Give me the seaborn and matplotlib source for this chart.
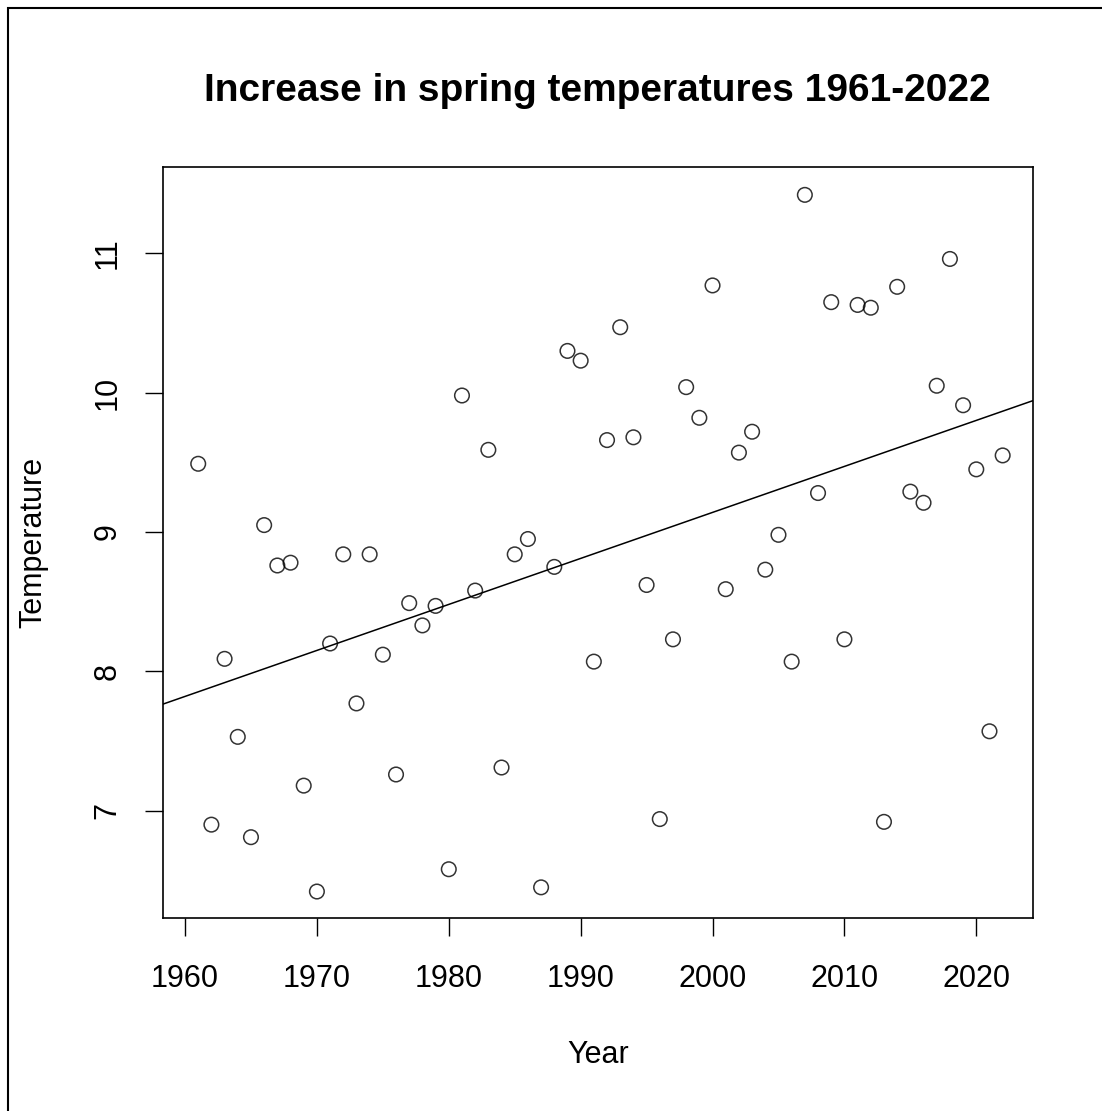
import numpy as np
import pandas as pd
import seaborn as sns
import matplotlib.pyplot as plt
from matplotlib.patches import Rectangle

# spring temperatures
years = list(range(1961, 2023))
temps = [9.49, 6.90, 8.09, 7.53, 6.81, 9.05, 8.76, 8.78, 7.18, 6.42,
         8.20, 8.84, 7.77, 8.84, 8.12, 7.26, 8.49, 8.33, 8.47, 6.58,
         9.98, 8.58, 9.59, 7.31, 8.84, 8.95, 6.45, 8.75, 10.30, 10.23,
         8.07, 9.66, 10.47, 9.68, 8.62, 6.94, 8.23, 10.04, 9.82, 10.77,
         8.59, 9.57, 9.72, 8.73, 8.98, 8.07, 11.42, 9.28, 10.65, 8.23,
         10.63, 10.61, 6.92, 10.76, 9.29, 9.21, 10.05, 10.96, 9.91, 9.45,
         7.57, 9.55]
x_ticks = [1960, 1970, 1980, 1990, 2000, 2010, 2020]
y_ticks = [7, 8, 9, 10, 11]

df = pd.DataFrame({"Year": years, "Temperature": temps})

sns.set_style("ticks")
plt.rcParams['font.family'] = ['Liberation Sans', 'DejaVu Sans']
plt.rcParams['text.color'] = 'black'
plt.rcParams['axes.labelcolor'] = 'black'
plt.rcParams['xtick.color'] = 'black'
plt.rcParams['ytick.color'] = 'black'

fig = plt.figure(figsize=(11.02, 11.11), dpi=100)
ax = fig.add_axes([163/1102, 1 - 918/1111, (1033-163)/1102, (918-167)/1111])

# R style limits (4% padding)
ax.set_xlim(1958.33, 2024.3)
ax.set_ylim(6.23, 11.62)

sns.regplot(data=df, x="Year", y="Temperature", ax=ax, ci=None, truncate=False,
            marker="o",
            scatter_kws=dict(s=110, facecolors="none", edgecolors="black", linewidths=1.1),
            line_kws=dict(color="black", lw=1.1))

ax.set_xticks(x_ticks)
ax.set_yticks(y_ticks)
ax.tick_params(axis="both", length=13, width=1.0, color="black", labelsize=22,
               labelcolor="black")
ax.tick_params(axis="x", pad=20)
ax.tick_params(axis="y", pad=16)
for lab in ax.get_yticklabels():
    lab.set_rotation(90)
    lab.set_va("center")
for sp in ax.spines.values():
    sp.set_linewidth(1.2)
    sp.set_color("black")

ax.set_xlabel("Year", fontsize=22)
ax.set_ylabel("Temperature", fontsize=22)
ax.xaxis.set_label_coords(0.5, (918-1055)/751)
ax.xaxis.label.set_va("center")
ax.yaxis.set_label_coords((33-163)/870, 0.5)
ax.yaxis.label.set_va("center")

fig.text(597/1102, 1 - 91/1111, "Increase in spring temperatures 1961-2022",
         fontsize=28, fontweight="bold", ha="center", va="center")

# outer frame
fig.add_artist(Rectangle((8/1102, -0.05), 1.1, 1 - 8/1111 + 0.05, fill=False,
                         lw=1.5, edgecolor="black", transform=fig.transFigure))

plt.savefig("out.png", dpi=100)
